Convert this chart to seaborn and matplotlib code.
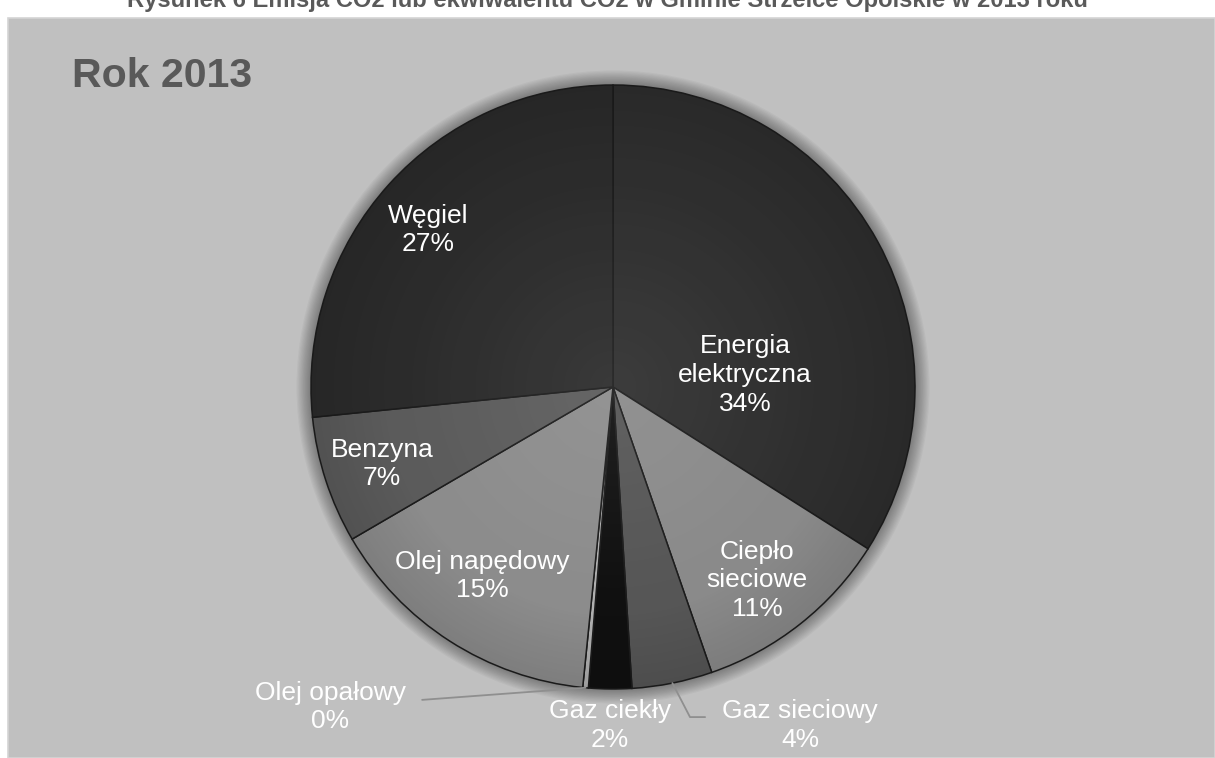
import matplotlib
matplotlib.use("Agg")
import matplotlib.pyplot as plt
from matplotlib.patches import Rectangle, Circle
import numpy as np
import seaborn as sns

# Emission shares by energy carrier, 2013 (percent)
categories = ["Energia\nelektryczna", "Ciepło\nsieciowe", "Gaz sieciowy", "Gaz ciekły",
              "Olej opałowy", "Olej napędowy", "Benzyna", "Węgiel"]
shares = [34.0, 10.7, 4.3, 2.3, 0.3, 15.0, 6.8, 26.6]
year_label = "Rok 2013"
figure_title = "Rysunek 6 Emisja CO2 lub ekwiwalentu CO2 w Gminie Strzelce Opolskie w 2013 roku"

# Grey shades for the wedges
wedge_colors = ["#2e2e2e", "#8a8a8a", "#565656", "#101010",
                "#b0b0b0", "#8c8c8c", "#5b5b5b", "#2b2b2b"]

# Label anchor points in pie-radius units (centre of each text block)
label_xy = [(0.437, 0.04), (0.477, -0.64), (0.62, -1.12), (-0.01, -1.12),
            (-0.937, -1.06), (-0.434, -0.626), (-0.765, -0.255), (-0.613, 0.52)]

sns.set_theme(style="white")
plt.rcParams["font.family"] = ["Liberation Sans", "DejaVu Sans"]

W, H = 1215, 758
fig = plt.figure(figsize=(W / 100, H / 100), dpi=100, facecolor="white")

# grey panel behind the chart
panel = Rectangle((8 / W, 0), 1 - 8 / W, 1 - 18 / H, transform=fig.transFigure,
                  facecolor="#c0c0c0", edgecolor="#d4d4d4", linewidth=1.2, zorder=-5)
fig.patches.append(panel)

# square axes: pie centre at (613, 387) px, radius 302 px
cx, cy, R, L = 613, 387, 302, 1.3
side = 2 * L * R
ax = fig.add_axes([(cx - side / 2) / W, (H - cy - side / 2) / H, side / W, side / H])
ax.set_zorder(2)
ax.axis("off")
ax.patch.set_alpha(0)

# soft shadow around the pie
for k in range(12, 0, -1):
    ax.add_patch(Circle((0, 0), 1 + 0.004 * k, facecolor="black", alpha=0.03,
                        edgecolor="none", zorder=1))

wedges, _ = ax.pie(shares, colors=wedge_colors, startangle=90, counterclock=False,
                   radius=1.0, wedgeprops=dict(edgecolor="#1c1c1c", linewidth=1.1))
for w in wedges:
    w.set_zorder(2)

# pie() resets the limits, so fix them afterwards
ax.set_xlim(-L, L)
ax.set_ylim(-L, L)
ax.set_aspect("equal")

# gentle radial shading over the pie (lighter towards the centre)
gx_, gy_ = np.meshgrid(np.linspace(-1, 1, 400), np.linspace(-1, 1, 400))
rr = np.hypot(gx_, gy_)
shade = np.zeros((400, 400, 4))
shade[..., :3] = np.where(rr[..., None] < 0.75, 1.0, 0.0)
shade[..., 3] = np.where(rr < 0.75, 0.07 * (1 - rr / 0.75), 0.10 * np.clip((rr - 0.75) / 0.25, 0, 1))
img = ax.imshow(shade, extent=(-1, 1, -1, 1), origin="lower", zorder=3, interpolation="bilinear")
img.set_clip_path(Circle((0, 0), 1.0, transform=ax.transData))

total = sum(shares)
for name, val, (lx, ly) in zip(categories, shares, label_xy):
    ax.text(lx, ly, f"{name}\n{val / total * 100:.0f}%", ha="center", va="center",
            color="white", fontsize=19, linespacing=1.25, zorder=5, clip_on=False)

def edge_point(i, r=1.0):
    w = wedges[i]
    th = np.deg2rad((w.theta1 + w.theta2) / 2)
    return r * np.cos(th), r * np.sin(th)

# leader lines for labels placed outside the pie
px, py = edge_point(4)
ax.plot([-0.632, px], [-1.036, py], color="#8f8f8f", lw=1.3, zorder=4, clip_on=False)
gx, gy = edge_point(2)
ax.plot([gx, 0.255, 0.305], [gy, -1.093, -1.093], color="#8f8f8f", lw=1.3, zorder=4,
        clip_on=False)

fig.text(72 / W, 1 - 87 / H, year_label, ha="left", va="baseline", fontsize=29.5,
         fontweight="bold", color="#595959")

# figure caption, partly above the top edge
t = fig.text(0.5, 1 - 7 / H, figure_title, ha="center", va="baseline", fontsize=15,
             fontweight="bold", color="#5a5a5a")
fig.canvas.draw()
wpx = t.get_window_extent().width
t.set_fontsize(15 * 968 / wpx)

fig.savefig("out.png", dpi=100, facecolor="white")
